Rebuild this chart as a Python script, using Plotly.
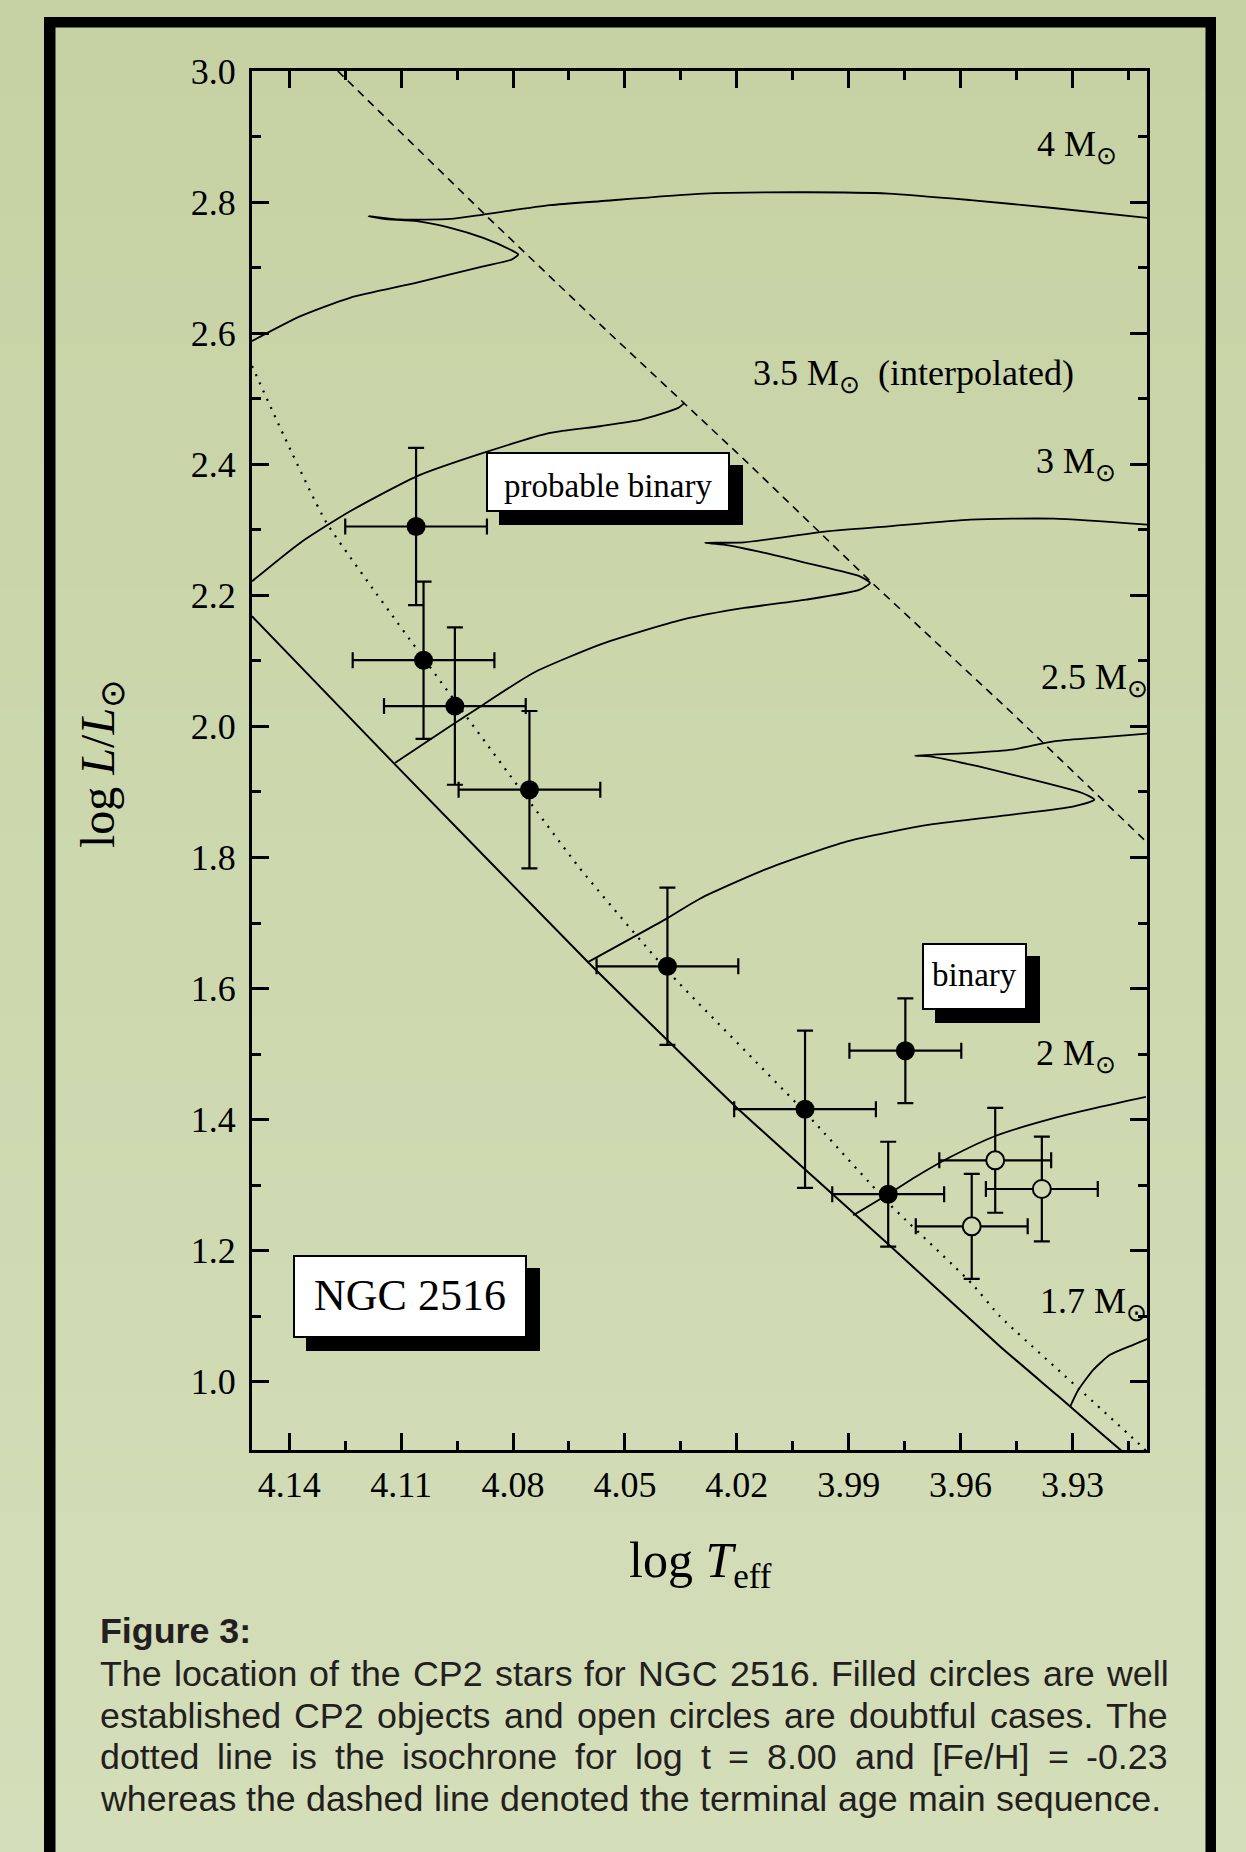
import plotly.graph_objects as go

# ---------------- data ----------------
# CP2 stars: filled = well established, open = doubtful
filled_logT = [4.106, 4.104, 4.0956, 4.0756, 4.0386, 4.0017, 3.9748, 3.9794]
filled_logL = [2.305, 2.101, 2.031, 1.9035, 1.634, 1.416, 1.5052, 1.2863]
filled_errT = [0.019, 0.019, 0.019, 0.019, 0.019, 0.019, 0.015, 0.015]
filled_errL = [0.12, 0.12, 0.12, 0.12, 0.12, 0.12, 0.08, 0.08]

open_logT = [3.9507, 3.9382, 3.957]
open_logL = [1.338, 1.2942, 1.2372]
open_errT = [0.015, 0.015, 0.015]
open_errL = [0.08, 0.08, 0.08]

# zero age main sequence (solid)
zams_logT = [4.15, 4.112, 4.060, 4.0205, 3.979, 3.9494, 3.934, 3.9181, 3.9138]
zams_logL = [2.168, 1.944, 1.641, 1.421, 1.208, 1.054, 0.979, 0.901, 0.88]

# isochrone log t = 8.00 (dotted)
iso_logT = [4.15, 4.1416, 4.13, 4.0625, 4.0391, 4.0018, 3.9794, 3.957, 3.9494, 3.9289, 3.911, 3.908]
iso_logL = [2.55, 2.4453, 2.3105, 1.7865, 1.6299, 1.412, 1.273, 1.150, 1.0997, 0.9928, 0.899, 0.88]

# terminal age main sequence (dashed)
tams_logT = [4.127, 4.088, 4.0571, 4.018, 3.9837, 3.9462, 3.9108, 3.909]
tams_logL = [3.0, 2.7836, 2.6157, 2.4071, 2.2189, 2.0205, 1.8272, 1.818]

# evolutionary tracks
track_4_logT = [4.15, 4.137, 4.1237, 4.1058, 4.088, 4.0804, 4.0786, 4.0808, 4.088, 4.0968, 4.1058,
                4.1147, 4.1187, 4.1103, 4.0968, 4.088, 4.0701, 4.0567, 4.029, 4.0014, 3.9793,
                3.9573, 3.9352, 3.91]
track_4_logL = [2.588, 2.626, 2.654, 2.677, 2.702, 2.7123, 2.720, 2.7276, 2.7454, 2.7607, 2.7708,
                2.7744, 2.7784, 2.7734, 2.7744, 2.781, 2.7952, 2.8013, 2.813, 2.815, 2.813,
                2.803, 2.791, 2.776]

track_35_logT = [4.15, 4.1371, 4.1237, 4.1058, 4.088, 4.0701, 4.0567, 4.0456, 4.0357, 4.034]
track_35_logL = [2.2214, 2.28, 2.3282, 2.3816, 2.4172, 2.4478, 2.458, 2.468, 2.486, 2.4936]

track_3_logT = [4.1117, 4.0969, 4.088, 4.0746, 4.0567, 4.0456, 4.0346, 4.018, 4.0014, 3.987, 3.9843,
                3.987, 4.0014, 4.0125, 4.0235, 4.0285, 4.018, 3.9959, 3.9793, 3.9573, 3.935, 3.91]
track_3_logL = [1.944, 2.0001, 2.0332, 2.0816, 2.1248, 2.145, 2.1629, 2.1807, 2.1934, 2.2087, 2.2189,
                2.229, 2.2495, 2.2647, 2.2774, 2.28, 2.2809, 2.2977, 2.3053, 2.3155, 2.317, 2.3079]

track_25_logT = [4.0598, 4.0386, 4.0299, 4.0125, 3.9904, 3.9683, 3.9462, 3.9296, 3.9241, 3.9274,
                 3.9462, 3.9573, 3.9683, 3.9722, 3.9573, 3.9462, 3.935, 3.9241, 3.91]
track_25_logL = [1.6407, 1.7075, 1.7371, 1.7814, 1.8246, 1.85, 1.8653, 1.878, 1.8882, 1.8984,
                 1.9264, 1.9416, 1.9543, 1.9553, 1.9595, 1.9645, 1.9772, 1.9824, 1.989]

track_2_logT = [3.9888, 3.9794, 3.9720, 3.9626, 3.9505, 3.9365, 3.9234, 3.9103]
track_2_logL = [1.2542, 1.2863, 1.3130, 1.3434, 1.3755, 1.4000, 1.4182, 1.4346]

track_17_logT = [3.9306, 3.9284, 3.9244, 3.9199, 3.9137, 3.9105, 3.908]
track_17_logL = [0.9623, 0.9878, 1.0183, 1.0412, 1.0565, 1.0641, 1.070]

tracks = [(track_4_logT, track_4_logL), (track_35_logT, track_35_logL),
          (track_3_logT, track_3_logL), (track_25_logT, track_25_logL),
          (track_2_logT, track_2_logL), (track_17_logT, track_17_logL)]

# axis ticks
x_major = [4.14, 4.11, 4.08, 4.05, 4.02, 3.99, 3.96, 3.93]
x_labels = ["4.14", "4.11", "4.08", "4.05", "4.02", "3.99", "3.96", "3.93"]
x_minor = [4.125, 4.095, 4.065, 4.035, 4.005, 3.975, 3.945, 3.915]
y_major = [1.0, 1.2, 1.4, 1.6, 1.8, 2.0, 2.2, 2.4, 2.6, 2.8, 3.0]
y_labels = ["1.0", "1.2", "1.4", "1.6", "1.8", "2.0", "2.2", "2.4", "2.6", "2.8", "3.0"]
y_minor = [1.1, 1.3, 1.5, 1.7, 1.9, 2.1, 2.3, 2.5, 2.7, 2.9]

mass_labels = ["4 M", "3.5 M", "3 M", "2.5 M", "2 M", "1.7 M"]

caption_title = "Figure 3:"
caption_lines = [
    "The location of the CP2 stars for NGC 2516. Filled circles are well",
    "established CP2 objects and open circles are doubtful cases. The",
    "dotted line is the isochrone for log t = 8.00 and [Fe/H] = -0.23",
    "whereas the dashed line denoted the terminal age main sequence.",
]

# ---------------- layout geometry ----------------
W, H = 1246, 1852
ML, MR, MT, MB = 252, 99, 71, 402
PW = W - ML - MR
PH = H - MT - MB


def fx(p):
    return (p - ML) / PW


def fy(p):
    return (H - MB - p) / PH


SERIF = "Liberation Serif, Times New Roman, serif"
SANS = "Liberation Sans, Arial, sans-serif"

top_rgb = (198, 210, 163)
bot_rgb = (212, 222, 186)


def bg_at(yp):
    t = max(0.0, min(1.0, yp / H))
    return "rgb(%d,%d,%d)" % tuple(round(a + (b - a) * t) for a, b in zip(top_rgb, bot_rgb))


fig = go.Figure()

for tx, ty in tracks:
    fig.add_trace(go.Scatter(x=tx, y=ty, mode="lines",
                             line=dict(color="black", width=1.8, shape="spline", smoothing=0.6),
                             hoverinfo="skip"))
fig.add_trace(go.Scatter(x=zams_logT, y=zams_logL, mode="lines",
                         line=dict(color="black", width=2, shape="spline", smoothing=0.4),
                         hoverinfo="skip"))
fig.add_trace(go.Scatter(x=iso_logT, y=iso_logL, mode="lines",
                         line=dict(color="black", width=2.2, dash="2px,7px", shape="spline",
                                   smoothing=0.4), hoverinfo="skip"))
fig.add_trace(go.Scatter(x=tams_logT, y=tams_logL, mode="lines",
                         line=dict(color="black", width=1.6, dash="8px,6px"), hoverinfo="skip"))

fig.add_trace(go.Scatter(
    x=filled_logT, y=filled_logL, mode="markers",
    marker=dict(symbol="circle", size=19, color="black", line=dict(width=0)),
    error_x=dict(type="data", array=filled_errT, color="black", thickness=2.2, width=8),
    error_y=dict(type="data", array=filled_errL, color="black", thickness=2.2, width=8),
))
fig.add_trace(go.Scatter(
    x=open_logT, y=open_logL, mode="markers",
    marker=dict(symbol="circle", size=18, color=bg_at(1200), line=dict(width=2, color="black")),
    error_x=dict(type="data", array=open_errT, color="black", thickness=2.2, width=8),
    error_y=dict(type="data", array=open_errL, color="black", thickness=2.2, width=8),
))

shapes = []
# background gradient
NB = 60
for i in range(NB):
    y0 = H * i / NB
    y1 = H * (i + 1) / NB
    shapes.append(dict(type="rect", xref="paper", yref="paper", layer="below",
                       x0=fx(-5), x1=fx(W + 5), y0=fy(y0 - 0.5), y1=fy(y1 + 0.5),
                       line=dict(width=0), fillcolor=bg_at((y0 + y1) / 2)))
# outer black frame
for (x0, x1, y0, y1) in [(44, 55.5, 17, H + 10), (44, 1216, 17, 27.5), (1205.5, 1216, 17, H + 10)]:
    shapes.append(dict(type="rect", xref="paper", yref="paper", layer="above",
                       x0=fx(x0), x1=fx(x1), y0=fy(y0), y1=fy(y1),
                       line=dict(width=0), fillcolor="black"))

annotations = []


def boxed(text, x0, x1, y0, y1, fs, ty):
    shapes.append(dict(type="rect", xref="paper", yref="paper", layer="above",
                       x0=fx(x0 + 12), x1=fx(x1 + 14), y0=fy(y0 + 12), y1=fy(y1 + 14),
                       line=dict(width=0), fillcolor="black"))
    shapes.append(dict(type="rect", xref="paper", yref="paper", layer="above",
                       x0=fx(x0), x1=fx(x1), y0=fy(y0), y1=fy(y1),
                       line=dict(width=2, color="black"), fillcolor="white"))
    annotations.append(dict(text=text, xref="paper", yref="paper", x=fx((x0 + x1) / 2), y=fy(ty),
                            xanchor="center", yanchor="middle", showarrow=False,
                            borderpad=0, borderwidth=0,
                            font=dict(family=SERIF, size=fs, color="black")))


boxed("probable binary", 487, 729, 453, 511, 33, 485.6)
boxed("binary", 923, 1026, 944, 1009, 33, 975.3)
boxed("NGC 2516", 294, 526, 1256, 1337, 44, 1295.2)

# mass labels (right edge x, baseline y)
mass_pos = [(1117, 158.3), (1074, 386.7), (1116, 475), (1148, 690.7), (1116, 1066.8), (1147, 1315)]
for lab, (rx, base) in zip(mass_labels, mass_pos):
    txt = lab + "<sub>⊙</sub>"
    if lab == "3.5 M":
        txt += "&nbsp;&nbsp;(interpolated)"
    annotations.append(dict(text=txt, xref="paper", yref="paper", x=fx(rx),
                            y=fy(base - 0.21 * 36 - 4),
                            xanchor="right", yanchor="middle", showarrow=False,
                            borderpad=0, borderwidth=0,
                            font=dict(family=SERIF, size=36, color="black")))

# axis titles
annotations.append(dict(text="log <i>T</i><sub>eff</sub>", xref="paper", yref="paper",
                        x=fx(700), y=fy(1574 - 0.21 * 50), xanchor="center", yanchor="middle",
                        showarrow=False, borderpad=0, borderwidth=0,
                        font=dict(family=SERIF, size=50, color="black")))
annotations.append(dict(text="log <i>L</i>/<i>L</i><sub>⊙</sub>", xref="paper", yref="paper",
                        x=fx(101), y=fy(764), xanchor="center", yanchor="middle", textangle=-90,
                        showarrow=False, borderpad=0, borderwidth=0,
                        font=dict(family=SERIF, size=48, color="black")))

# caption, justified word by word (Arial / Liberation Sans metrics)
AW = {' ': 278, '.': 278, ',': 278, ':': 278, '-': 333, '=': 584, '[': 278, ']': 278, '/': 278,
      'a': 556, 'b': 556, 'c': 500, 'd': 556, 'e': 556, 'f': 278, 'g': 556, 'h': 556, 'i': 222,
      'j': 222, 'k': 500, 'l': 222, 'm': 833, 'n': 556, 'o': 556, 'p': 556, 'q': 556, 'r': 333,
      's': 500, 't': 278, 'u': 556, 'v': 500, 'w': 722, 'x': 500, 'y': 500, 'z': 500,
      'A': 667, 'B': 667, 'C': 722, 'D': 722, 'E': 667, 'F': 611, 'G': 778, 'H': 722, 'I': 278,
      'N': 722, 'P': 667, 'T': 611}
CAP_FS = 35.8
CAP_COLOR = "#231f20"


def tw(s):
    return sum(AW.get(c, 556) for c in s) / 1000.0 * CAP_FS


annotations.append(dict(text="<b>" + caption_title + "</b>", xref="paper", yref="paper",
                        x=fx(100), y=fy(1643.5 - 0.3465 * CAP_FS), xanchor="left", yanchor="middle",
                        showarrow=False, borderpad=0, borderwidth=0,
                        font=dict(family=SANS, size=CAP_FS, color=CAP_COLOR)))
cap_base = [1686.7, 1728.3, 1769.3, 1811.7]
cap_right = [1168, 1168, 1168, 1161]
for line, base, right in zip(caption_lines, cap_base, cap_right):
    words = line.split(" ")
    widths = [tw(w) for w in words]
    gap = (right - 100 - sum(widths)) / (len(words) - 1)
    xpos = 100.0
    for w, wd in zip(words, widths):
        annotations.append(dict(text=w, xref="paper", yref="paper", x=fx(xpos),
                                y=fy(base - 0.3465 * CAP_FS), xanchor="left", yanchor="middle",
                                showarrow=False, borderpad=0, borderwidth=0,
                                font=dict(family=SANS, size=CAP_FS, color=CAP_COLOR)))
        xpos += wd + gap

axis_common = dict(showline=True, linewidth=3, linecolor="black", mirror="ticks",
                   ticks="inside", ticklen=17, tickwidth=3, tickcolor="black",
                   showgrid=False, zeroline=False,
                   tickfont=dict(family=SERIF, size=36, color="black"))

fig.update_layout(
    width=W, height=H,
    margin=dict(l=ML, r=MR, t=MT, b=MB, autoexpand=False),
    paper_bgcolor="rgba(0,0,0,0)", plot_bgcolor="rgba(0,0,0,0)",
    showlegend=False,
    xaxis=dict(range=[4.15, 3.91], tickmode="array", tickvals=x_major, ticktext=x_labels,
               ticklabelstandoff=1,
               minor=dict(tickmode="array", tickvals=x_minor, ticks="inside", ticklen=9,
                          tickwidth=2.5, tickcolor="black", showgrid=False),
               **axis_common),
    yaxis=dict(range=[0.896, 3.0], tickmode="array", tickvals=y_major, ticktext=y_labels,
               ticklabelstandoff=6,
               minor=dict(tickmode="array", tickvals=y_minor, ticks="inside", ticklen=9,
                          tickwidth=2.5, tickcolor="black", showgrid=False),
               **axis_common),
    shapes=shapes,
    annotations=annotations,
)

fig.write_html("out.html", config={"displayModeBar": False})
